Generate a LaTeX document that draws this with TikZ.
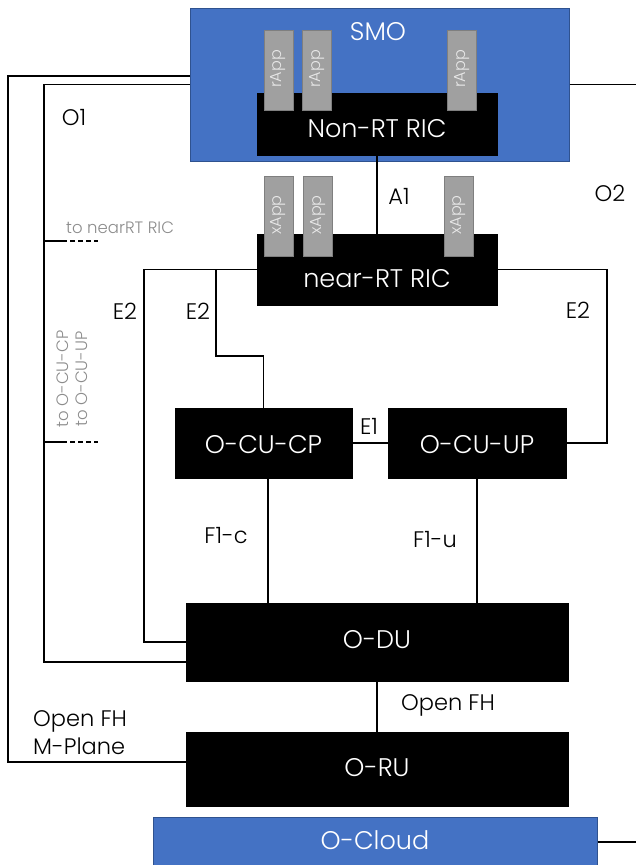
\documentclass[tikz,border=0pt]{standalone}
\usepackage{fontspec}
\setmainfont{Poppins Light}
\begin{document}
\begin{tikzpicture}[x=1pt,y=-1pt,
  blk/.style={draw=black,fill=black,rectangle,inner sep=0pt},
  bluebox/.style={draw=blueedge,fill=smoblue,rectangle,inner sep=0pt,line width=1pt},
  appbox/.style={draw=appedge,fill=appgray,rectangle,inner sep=0pt,line width=1pt,minimum width=29pt,minimum height=80pt},
  apptxt/.style={text=apptext,font=\fontsize{16}{18}\selectfont,rotate=90,inner sep=0pt},
  wtxt/.style={text=white,font=\fontsize{25.5}{28}\selectfont,inner sep=0pt},
  itxt/.style={text=black,font=\fontsize{22.5}{26}\selectfont,inner sep=0pt},
  gtxt/.style={text=graytext,font=\fontsize{16.5}{19}\selectfont,inner sep=0pt},
  conn/.style={draw=black,line width=1.2pt},
]
\definecolor{smoblue}{HTML}{4472C4}
\definecolor{blueedge}{HTML}{2F528F}
\definecolor{appgray}{HTML}{A0A0A0}
\definecolor{appedge}{HTML}{7F7F7F}
\definecolor{apptext}{HTML}{E8E8E8}
\definecolor{graytext}{HTML}{8C8C8C}
\useasboundingbox (0,0) rectangle (636,865);

% SMO
\node[bluebox,minimum width=379pt,minimum height=153pt] (smo) at (379.5,84.5) {};
\node[wtxt] (smolbl) at (378,32) {SMO};
% Non-RT RIC
\node[blk,minimum width=240pt,minimum height=62pt] (nonrt) at (377,124) {};
\node[wtxt] (nonrtlbl) at (377,129) {Non-RT RIC};
\node[appbox] (r1) at (278.5,70) {};
\node[apptxt] (r1t) at (278.5,69) {rApp};
\node[appbox] (r2) at (317,70) {};
\node[apptxt] (r2t) at (317,69) {rApp};
\node[appbox] (r3) at (462,70) {};
\node[apptxt] (r3t) at (462,69) {rApp};

% near-RT RIC
\node[blk,minimum width=240pt,minimum height=71pt] (nearrt) at (377,269.5) {};
\node[wtxt] (nearrtlbl) at (377,279) {near-RT RIC};
\node[appbox] (x1) at (278.5,216) {};
\node[apptxt] (x1t) at (278.5,215) {xApp};
\node[appbox] (x2) at (318,216) {};
\node[apptxt] (x2t) at (318,215) {xApp};
\node[appbox] (x3) at (458.5,216) {};
\node[apptxt] (x3t) at (458.5,215) {xApp};

% CU
\node[blk,minimum width=177pt,minimum height=70pt] (ocucp) at (263.5,443) {};
\node[wtxt] (ocucplbl) at (263.5,445) {O-CU-CP};
\node[blk,minimum width=178pt,minimum height=70pt] (ocuup) at (477,443) {};
\node[wtxt] (ocuuplbl) at (477,445) {O-CU-UP};
% DU, RU, Cloud
\node[blk,minimum width=382pt,minimum height=78pt] (odu) at (377,642) {};
\node[wtxt] (odulbl) at (377,640) {O-DU};
\node[blk,minimum width=382pt,minimum height=74pt] (oru) at (377,769) {};
\node[wtxt] (orulbl) at (377,768) {O-RU};
\node[bluebox,minimum width=444pt,minimum height=50pt] (ocloud) at (375,842) {};
\node[wtxt] (ocloudlbl) at (375,840) {O-Cloud};

% coordinates
\coordinate (rightedge) at (636,0);
\coordinate (o1outer) at (8,762);
\coordinate (o1inner) at (44,662);
\coordinate (e2left) at (144,642);
\coordinate (e2mid) at (216,269.5);
\coordinate (e2midb) at (216,356);
\coordinate (e2right) at (607,0);
\coordinate (f1c) at (268,0);
\coordinate (s1a) at (44,241);
\coordinate (s1b) at (62,241);
\coordinate (s1c) at (98,241);
\coordinate (s2a) at (44,442);
\coordinate (s2b) at (62,442);
\coordinate (s2c) at (98,442);

% connectors
\draw[conn] (nonrt) -- (nearrt);
\draw[conn] (smo.east) -- (smo.east -| rightedge);
\draw[conn] ([yshift=8.5pt]smo.west) -| (o1outer) -- (o1outer -| oru.west);
\draw[conn] (smo.west) -| (o1inner) -- (o1inner -| odu.west);
\draw[conn] (s1a) -- (s1b);
\draw[conn,dashed,dash pattern=on 5pt off 3pt] (s1b) -- (s1c);
\draw[conn] (s2a) -- (s2b);
\draw[conn,dashed,dash pattern=on 5pt off 3pt] (s2b) -- (s2c);
\draw[conn] (nearrt.west) -| (e2left) -- (odu.west);
\draw[conn] (e2mid) -- (e2midb) -| (ocucp.north);
\draw[conn] (nearrt.east) -- (nearrt.east -| e2right) |- (ocuup.east);
\draw[conn] (ocucp.east) -- (ocuup.west);
\draw[conn] (ocucp.south -| f1c) -- (odu.north -| f1c);
\draw[conn] (ocuup.south) -- (ocuup.south |- odu.north);
\draw[conn] (odu) -- (oru);
\draw[conn] (ocloud.east) -- (ocloud.east -| rightedge);

% interface labels
\node[itxt] (o1lbl) at (74,118) {O1};
\node[itxt] (a1lbl) at (399,196) {A1};
\node[itxt] (o2lbl) at (610,193) {O2};
\node[itxt] (e2alb) at (125,311) {E2};
\node[itxt] (e2blb) at (198,311) {E2};
\node[itxt] (e2clb) at (578,310) {E2};
\node[itxt] (e1lbl) at (369,426) {E1};
\node[itxt] (f1clbl) at (226,536) {F1-c};
\node[itxt] (f1ulbl) at (435,540) {F1-u};
\node[itxt] (ofhlbl) at (448,705) {Open FH};
\node[itxt,align=left,anchor=west,font=\fontsize{22.5}{28}\selectfont] (mplbl) at (33,733) {Open FH\\M-Plane};
\node[gtxt,anchor=west] (tonear) at (66,228) {to nearRT RIC};
\node[gtxt,rotate=90,align=center] (tocu) at (72,379) {to O-CU-CP\\to O-CU-UP};
\end{tikzpicture}
\end{document}
